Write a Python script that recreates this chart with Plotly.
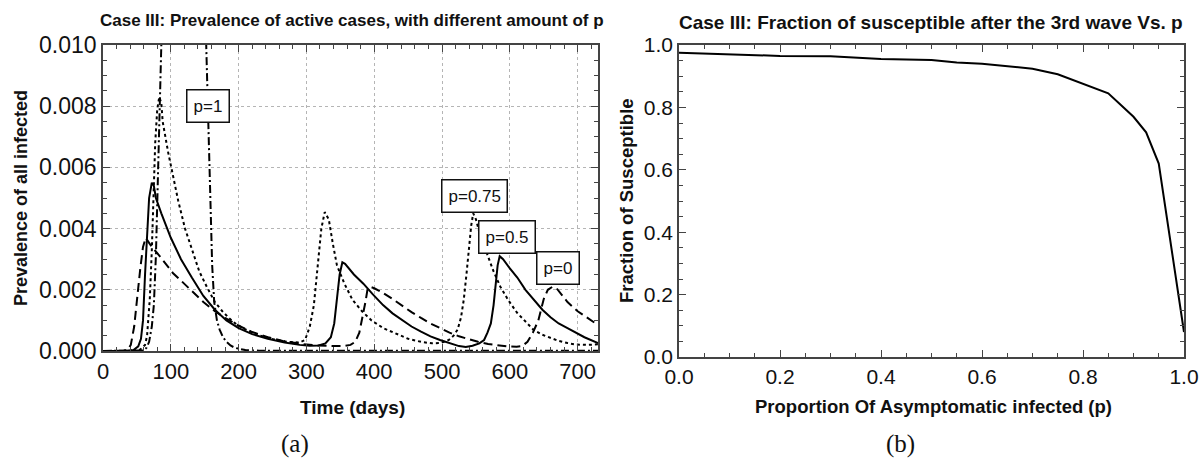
import plotly.graph_objects as go

# ---------------- data: panel (a) ----------------
t_p0 = [0, 20, 30, 37, 41, 46, 50, 55, 59, 63, 66, 72, 80, 90, 103, 115, 131, 148, 165, 180, 198, 220, 243, 265, 289, 315, 339, 355, 365, 372, 378, 383, 387, 390, 394, 400, 413, 427, 441, 455, 469, 483, 497, 511, 525, 540, 553, 568, 582, 596, 610, 618, 626, 634, 642, 650, 656, 663, 670, 685, 700, 715, 730]
v_p0 = [0, 0, 0.00001, 0.00005, 0.0002, 0.0008, 0.0017, 0.0027, 0.0034, 0.0037, 0.0036, 0.0034, 0.0032, 0.0029, 0.00255, 0.0023, 0.00195, 0.0016, 0.0013, 0.00108, 0.00085, 0.00062, 0.00045, 0.00033, 0.00024, 0.00018, 0.00016, 0.00016, 0.0002, 0.0003, 0.0006, 0.0011, 0.0016, 0.002, 0.0021, 0.00205, 0.0019, 0.0017, 0.00148, 0.00127, 0.00108, 0.0009, 0.00075, 0.0006, 0.00048, 0.00038, 0.0003, 0.00023, 0.00018, 0.00015, 0.00014, 0.00016, 0.0003, 0.0006, 0.001, 0.0017, 0.002, 0.0021, 0.00202, 0.0016, 0.0013, 0.00108, 0.00085]

t_p05 = [0, 30, 45, 52, 56, 59, 62, 65, 68, 72, 75, 78, 86, 100, 115, 131, 148, 165, 182, 200, 220, 243, 268, 290, 305, 318, 328, 336, 341, 345, 349, 353, 357, 370, 384, 398, 413, 427, 441, 455, 469, 483, 497, 511, 525, 535, 545, 555, 562, 567, 572, 576, 579, 582, 585, 590, 600, 611, 623, 635, 648, 660, 672, 685, 697, 710, 730]
v_p05 = [0, 0, 0.00003, 0.00015, 0.0004, 0.001, 0.0025, 0.004, 0.005, 0.0055, 0.0054, 0.005, 0.0045, 0.0037, 0.003, 0.0024, 0.0018, 0.00135, 0.001, 0.00075, 0.00055, 0.0004, 0.00028, 0.0002, 0.00017, 0.00018, 0.00025, 0.00045, 0.0009, 0.0017, 0.0025, 0.0029, 0.00285, 0.0025, 0.0022, 0.00185, 0.0015, 0.00123, 0.001, 0.0008, 0.00063, 0.00048, 0.00036, 0.00025, 0.00016, 0.00013, 0.00017, 0.00025, 0.00036, 0.0006, 0.0009, 0.0015, 0.0022, 0.0028, 0.0031, 0.003, 0.0027, 0.0024, 0.002, 0.00167, 0.00135, 0.0011, 0.0009, 0.00075, 0.0006, 0.00045, 0.00026]

t_p075 = [0, 40, 55, 62, 65, 69, 72, 74, 77, 80, 83, 86, 88, 96, 103, 111, 121, 131, 142, 153, 165, 176, 187, 198, 215, 232, 252, 272, 290, 298, 305, 311, 317, 322, 327, 333, 339, 345, 356, 368, 382, 396, 413, 430, 450, 469, 485, 498, 510, 517, 523, 528, 532, 536, 539, 543, 546, 550, 556, 567, 576, 586, 598, 611, 623, 635, 648, 660, 672, 685, 698, 715, 730]
v_p075 = [0, 0, 0.00005, 0.0002, 0.0005, 0.0017, 0.0033, 0.005, 0.0068, 0.0079, 0.0083, 0.0081, 0.0075, 0.0065, 0.0057, 0.0049, 0.004, 0.0033, 0.0026, 0.0021, 0.0016, 0.0013, 0.00105, 0.00085, 0.00065, 0.0005, 0.00038, 0.0003, 0.00028, 0.00036, 0.0008, 0.0015, 0.0028, 0.004, 0.00454, 0.0043, 0.0035, 0.0028, 0.0022, 0.00167, 0.0013, 0.001, 0.00075, 0.00058, 0.0004, 0.0003, 0.00025, 0.00026, 0.00036, 0.0005, 0.0007, 0.0011, 0.00167, 0.0025, 0.0033, 0.0041, 0.0045, 0.0043, 0.0038, 0.0031, 0.0026, 0.0021, 0.00165, 0.00124, 0.00095, 0.00069, 0.00053, 0.00042, 0.00033, 0.00026, 0.00021, 0.0002, 0.00022]

t_p1 = [0, 50, 60, 64, 68, 72, 75, 78, 80, 83, 86, 95, 115, 140, 152, 155, 158, 161, 164, 168, 172, 177, 182, 188, 195, 202, 210, 230, 260, 300, 400, 500, 600, 730]
v_p1 = [0, 0, 0.00002, 0.0001, 0.0003, 0.0008, 0.0015, 0.0031, 0.005, 0.0075, 0.01, 0.018, 0.025, 0.02, 0.01, 0.0072, 0.005, 0.0028, 0.0016, 0.001, 0.0007, 0.00045, 0.0003, 0.00018, 0.0001, 0.00006, 0.00003, 0.00001, 0.00001, 0.00001, 0.00001, 0.00001, 0.00001, 0.00001]

labels_a = ["p=1", "p=0.75", "p=0.5", "p=0"]
label_t = [155, 548, 596, 671]
label_v = [0.0080, 0.00508, 0.00371, 0.0027]

x_ticks_a = [0, 100, 200, 300, 400, 500, 600, 700]
y_ticks_a = [0.000, 0.002, 0.004, 0.006, 0.008, 0.010]

# ---------------- data: panel (b) ----------------
p_vals = [0, 0.1, 0.2, 0.3, 0.4, 0.5, 0.55, 0.6, 0.65, 0.7, 0.75, 0.8, 0.85, 0.875, 0.9, 0.925, 0.95, 1.0]
s_vals = [0.975, 0.97, 0.965, 0.964, 0.955, 0.952, 0.944, 0.94, 0.933, 0.924, 0.906, 0.876, 0.845, 0.808, 0.77, 0.72, 0.62, 0.08]

x_ticks_b = [0.0, 0.2, 0.4, 0.6, 0.8, 1.0]
y_ticks_b = [0.0, 0.2, 0.4, 0.6, 0.8, 1.0]

FONT = "Liberation Sans"
AXC = "#444444"

fig = go.Figure()

def add_line(t, v, dash, xa="x", ya="y"):
    fig.add_trace(go.Scatter(x=t, y=v, mode="lines", xaxis=xa, yaxis=ya,
                             line=dict(color="black", width=2, dash=dash),
                             showlegend=False, hoverinfo="skip"))

add_line(t_p1, v_p1, "8px,3px,2px,3px")
add_line(t_p0, v_p0, "9px,5px")
add_line(t_p075, v_p075, "3px,3px")
add_line(t_p05, v_p05, "solid")
add_line(p_vals, s_vals, "solid", "x2", "y2")

W, H = 1200, 462
def fx(px): return px / W
def fy(py): return 1 - py / H

def axis(size):
    return dict(showline=True, linecolor=AXC, linewidth=1.5, mirror="ticks",
                ticks="inside", ticklen=7, tickcolor=AXC, tickwidth=1,
                zeroline=False, automargin=False,
                tickfont=dict(family=FONT, size=size, color="#111"))

grid = dict(showgrid=True, gridcolor="#b5b5b5", griddash="dot", gridwidth=1)

fig.update_layout(
    width=W, height=H, margin=dict(l=0, r=0, t=0, b=0),
    paper_bgcolor="white", plot_bgcolor="white",
    xaxis=dict(domain=[fx(103), fx(598)], range=[0, 730], anchor="y",
               tickvals=x_ticks_a, **grid,
               minor=dict(dtick=20, ticks="inside", ticklen=4, tickcolor=AXC, showgrid=False),
               **axis(22)),
    yaxis=dict(domain=[fy(351), fy(45)], range=[0, 0.010], anchor="x",
               tickvals=y_ticks_a, tickformat=".3f", **grid,
               minor=dict(dtick=0.0005, ticks="inside", ticklen=4, tickcolor=AXC, showgrid=False),
               **axis(23)),
    xaxis2=dict(domain=[fx(679), fx(1184)], range=[0, 1], anchor="y2",
                tickvals=x_ticks_b, tickformat=".1f", showgrid=False,
                minor=dict(dtick=0.05, ticks="inside", ticklen=4, tickcolor=AXC, showgrid=False),
                **axis(21)),
    yaxis2=dict(domain=[fy(357), fy(45)], range=[0, 1], anchor="x2",
                tickvals=y_ticks_b, tickformat=".1f", showgrid=False,
                minor=dict(dtick=0.05, ticks="inside", ticklen=4, tickcolor=AXC, showgrid=False),
                **axis(21)),
)

for txt, tx, ty in zip(labels_a, label_t, label_v):
    fig.add_annotation(x=tx, y=ty, xref="x", yref="y", text=txt, showarrow=False,
                       font=dict(family=FONT, size=17, color="#111"),
                       bgcolor="white", bordercolor="#111", borderwidth=1.5, borderpad=6)

def paper_text(txt, px, py, size, bold=True, angle=0, family=FONT):
    fig.add_annotation(x=fx(px), y=fy(py), xref="paper", yref="paper",
                       text=f"<b>{txt}</b>" if bold else txt, showarrow=False,
                       textangle=angle, xanchor="center", yanchor="middle",
                       font=dict(family=family, size=size, color="#111"))

paper_text("Case III: Prevalence of active cases, with different amount of p", 352, 21, 17)
paper_text("Case III: Fraction of susceptible after the 3rd wave Vs. p", 931, 22, 19)
paper_text("Time (days)", 352, 407, 19)
paper_text("Proportion Of Asymptomatic infected (p)", 933, 406, 18.5)
paper_text("Prevalence of all infected", 21, 198, 18, angle=-90)
paper_text("Fraction of Susceptible", 626, 200, 18.5, angle=-90)
paper_text("(a)", 295, 444, 25, bold=False, family="Liberation Serif")
paper_text("(b)", 900, 444, 25, bold=False, family="Liberation Serif")

fig.write_html("out.html")
